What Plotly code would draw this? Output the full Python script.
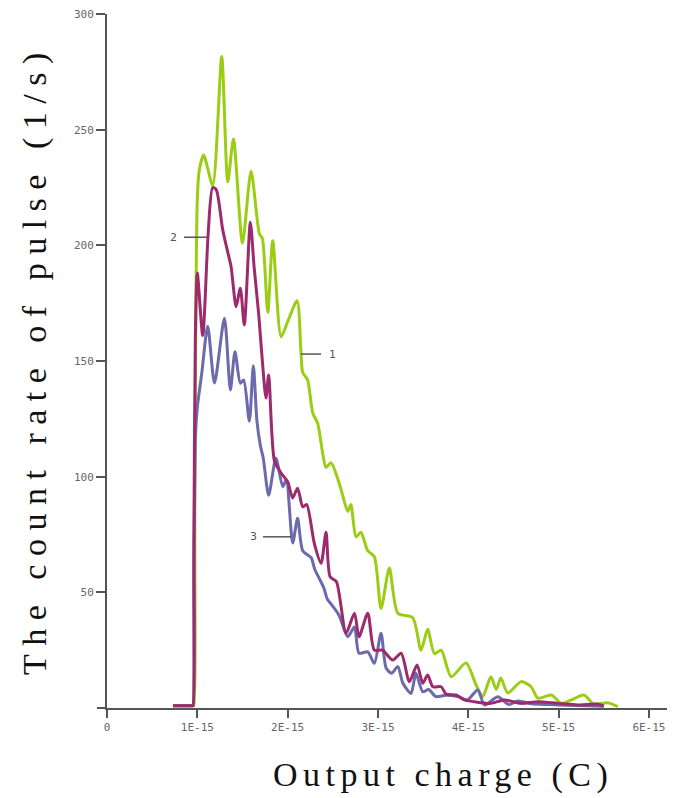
import plotly.graph_objects as go

# x values in units of 1E-15 C
charge_1 = [0.73, 0.955, 0.962, 0.972, 0.985, 1.0, 1.02, 1.07, 1.17, 1.27, 1.337, 1.40, 1.50, 1.595, 1.687, 1.72,
            1.78, 1.835, 1.927, 2.0, 2.104, 2.148, 2.167, 2.22, 2.278, 2.333, 2.388, 2.425, 2.48,
            2.58, 2.665, 2.70, 2.757, 2.81, 2.887, 2.96, 3.034, 3.126, 3.22, 3.385, 3.477, 3.55,
            3.625, 3.70, 3.81, 3.975, 4.086, 4.16, 4.25, 4.31, 4.36, 4.437, 4.585, 4.695, 4.77,
            4.92, 5.03, 5.14, 5.28, 5.39, 5.545, 5.655]
rate_1 = [1, 1, 1, 80, 180, 220, 232, 239, 226, 281.6, 227.5, 246, 201, 232, 205, 203,
          171, 202, 160.5, 167, 176, 153.5, 145, 142, 127.5, 123, 110, 104, 106,
          96, 85, 88, 74, 76, 68, 65.4, 43, 60.5, 41, 39, 25, 34,
          23.5, 25, 13.5, 19.5, 10, 5, 13.5, 8, 13, 6.5, 11.4, 9.2, 4.3,
          5.6, 2, 3.5, 5.6, 1.7, 2.3, 0.6]

charge_2 = [0.73, 0.945, 0.952, 0.962, 0.978, 1.0, 1.06, 1.12, 1.17, 1.21, 1.28, 1.337, 1.373, 1.43, 1.476, 1.52,
            1.587, 1.63, 1.68, 1.72, 1.76, 1.79, 1.853, 1.927, 2.0, 2.056, 2.11, 2.167, 2.21,
            2.296, 2.37, 2.425, 2.47, 2.54, 2.647, 2.74, 2.79, 2.887, 2.96, 3.05, 3.164, 3.256,
            3.348, 3.433, 3.496, 3.55, 3.607, 3.7, 3.754, 3.865, 3.957, 4.07, 4.25, 4.4, 4.585,
            4.77, 4.99, 5.21, 5.43, 5.5]
rate_2 = [1, 1, 1, 70, 160, 188, 161, 205, 225, 224, 207, 197, 191, 173.5, 181.5, 165.6,
          210, 190, 170, 150, 134, 144, 107, 101.6, 97.8, 90.8, 95, 87, 88,
          71, 62.6, 76, 56.7, 54.6, 32.4, 41, 30.8, 41, 25, 25, 20.7, 23.7,
          11.4, 18.6, 10.7, 14.3, 9.2, 9.2, 6, 5.6, 3.5, 2.7, 2, 3.5, 2,
          2.7, 2, 1.3, 1.7, 0.8]

charge_3 = [0.73, 0.945, 0.952, 0.962, 0.98, 1.0, 1.05, 1.115, 1.19, 1.30, 1.366, 1.417, 1.476, 1.513, 1.576,
            1.62, 1.66, 1.70, 1.73, 1.79, 1.87, 1.946, 1.985, 2.056, 2.11, 2.167, 2.26, 2.30,
            2.35, 2.40, 2.44, 2.48, 2.57, 2.665, 2.74, 2.79, 2.887, 2.96, 3.034, 3.09, 3.15,
            3.22, 3.275, 3.366, 3.42, 3.496, 3.56, 3.643, 3.75, 3.884, 3.99, 4.105, 4.18, 4.327,
            4.45, 4.55, 4.7, 4.9, 5.1, 5.5]
rate_3 = [1, 1, 1, 60, 118, 130, 145, 165, 140.5, 168.5, 137.5, 154, 140.4, 141.8, 124,
          148, 124, 113, 108, 92, 108, 95.7, 98.6, 71.3, 82, 68, 65, 60,
          56, 52, 47, 45, 40, 30.8, 35, 23.7, 24.3, 19.3, 32.3, 17.3, 15,
          17.9, 10.8, 6.3, 15, 7, 8, 4.9, 5.5, 4.9, 3.5, 7.8, 1.3, 4.9,
          1.5, 3, 1.8, 1.5, 1.2, 0.8]

x_tickvals = [0, 1, 2, 3, 4, 5, 6]
x_ticktext = ["0", "1E-15", "2E-15", "3E-15", "4E-15", "5E-15", "6E-15"]
y_tickvals = [50, 100, 150, 200, 250, 300]

GREEN = "#9ACD14"
PINK = "#9C2A6C"
BLUE = "#6A6AAC"
GRAY = "#555555"

fig = go.Figure()
for xs, ys, col in [(charge_1, rate_1, GREEN), (charge_3, rate_3, BLUE), (charge_2, rate_2, PINK)]:
    fig.add_trace(go.Scatter(x=xs, y=ys, mode="lines",
                             line=dict(color=col, width=3, shape="spline", smoothing=0.7),
                             showlegend=False, hoverinfo="skip"))

L, R, T, B = 107, 6, 14, 90
W, H = 673, 798
pw, ph = W - L - R, H - T - B

fig.update_layout(
    width=W, height=H,
    margin=dict(l=L, r=R, t=T, b=B),
    paper_bgcolor="white", plot_bgcolor="white",
    xaxis=dict(range=[0, 6.2], tickvals=x_tickvals, ticktext=x_ticktext,
               showgrid=False, zeroline=False, showline=True, linecolor=GRAY, linewidth=2,
               ticks="outside", ticklen=8, tickwidth=2, tickcolor=GRAY,
               tickfont=dict(family="DejaVu Sans Mono", size=11, color="#666666")),
    yaxis=dict(range=[0, 300], tickvals=y_tickvals,
               showgrid=False, zeroline=False, showline=True, linecolor=GRAY, linewidth=2,
               ticks="outside", ticklen=9, tickwidth=2, tickcolor=GRAY,
               tickfont=dict(family="DejaVu Sans Mono", size=11, color="#666666")),
)

# axis line extensions (left of origin / below origin)
fig.add_shape(type="line", xref="paper", yref="paper", x0=(97 - L) / pw, x1=0, y0=0, y1=0,
              line=dict(color=GRAY, width=2))
fig.add_shape(type="line", xref="paper", yref="paper", x0=0, x1=0, y0=0, y1=-5 / ph,
              line=dict(color=GRAY, width=2))

# curve labels with leader lines
labels = [("1", 2.148, 2.37, 153, 2.44, "left"),
          ("2", 0.853, 1.107, 203.5, 0.80, "right"),
          ("3", 1.727, 2.037, 74, 1.68, "right")]
for txt, xa, xb, yv, xt, anc in labels:
    fig.add_shape(type="line", xref="x", yref="y", x0=xa, x1=xb, y0=yv, y1=yv,
                  line=dict(color=GRAY, width=1.5))
    fig.add_annotation(x=xt, y=yv, xref="x", yref="y", text=txt, showarrow=False,
                       xanchor=anc, yanchor="middle",
                       font=dict(family="DejaVu Sans", size=11, color=GRAY))

# axis titles
fig.add_annotation(xref="paper", yref="paper", x=(443 - L) / pw, y=(708 - 775) / ph,
                   text='<span style="letter-spacing:5.5px">Output charge (C)</span>',
                   showarrow=False, xanchor="center", yanchor="middle",
                   font=dict(family="Liberation Serif", size=34, color="#111111"))
fig.add_annotation(xref="paper", yref="paper", x=(35 - L) / pw, y=(708 - 360) / ph,
                   text='<span style="letter-spacing:8.5px">The count rate of pulse (1/s)</span>',
                   showarrow=False, textangle=-90, xanchor="center", yanchor="middle",
                   font=dict(family="Liberation Serif", size=34, color="#111111"))

fig.write_html("out.html", config={"displayModeBar": False},
               post_script="document.body.style.margin='0';")
